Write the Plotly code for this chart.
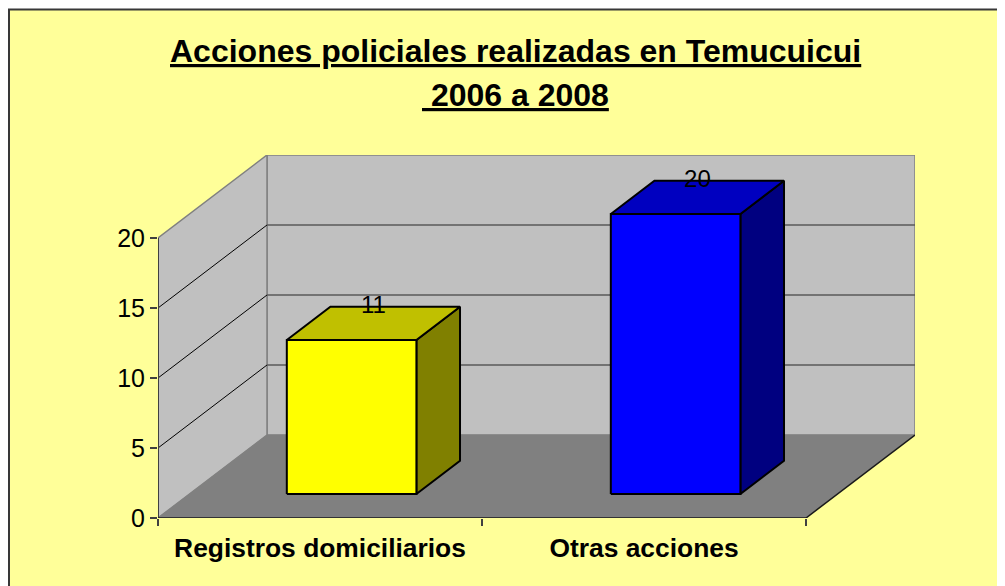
import plotly.graph_objects as go

# ---- data ----
categories = ["Registros domiciliarios", "Otras acciones"]
values = [11, 20]
front_colors = ["#FFFF00", "#0000FF"]
top_colors = ["#C0C000", "#0000C0"]
side_colors = ["#808000", "#000080"]
y_ticks = [0, 5, 10, 15, 20]
title_lines = ["Acciones policiales realizadas en Temucuicui", "\u00a02006 a 2008"]

# ---- layout geometry ----
W, H = 1005, 586
OFF = 8  # page body margin offset
ML, MR, MT, MB = 158 - OFF, 90 + OFF, 155 - OFF, 68 + OFF
N = len(categories)
VMAX = max(y_ticks)
DX = 109 / 324      # depth shift along category axis (per full depth)
DY = 83 / 14        # depth shift along value axis (per full depth)
BAR_HALF = 0.2
D0, D1 = 0.29, 0.69
FONT = "Arial, Liberation Sans, sans-serif"


def proj(u, d, v):
    return u + DX * d, v + DY * d


def poly(pts):
    xs, ys = [], []
    for p in pts + [pts[0]]:
        x, y = proj(*p)
        xs.append(x)
        ys.append(y)
    return xs, ys


def segs(pairs):
    xs, ys = [], []
    for a, b in pairs:
        for p in (a, b):
            x, y = proj(*p)
            xs.append(x)
            ys.append(y)
        xs.append(None)
        ys.append(None)
    return xs, ys


fig = go.Figure()


def add_poly(pts, fill, line_color, line_width):
    xs, ys = poly(pts)
    fig.add_trace(go.Scatter(
        x=xs, y=ys, mode="lines", fill="toself", fillcolor=fill,
        line=dict(color=line_color, width=line_width),
        hoverinfo="skip", showlegend=False))


def add_lines(pairs, color, width):
    xs, ys = segs(pairs)
    fig.add_trace(go.Scatter(
        x=xs, y=ys, mode="lines", line=dict(color=color, width=width),
        hoverinfo="skip", showlegend=False))


# walls and floor
add_poly([(0, 1, 0), (N, 1, 0), (N, 1, VMAX), (0, 1, VMAX)], "#C0C0C0", "#808080", 1.5)
add_poly([(0, 0, 0), (0, 1, 0), (0, 1, VMAX), (0, 0, VMAX)], "#C0C0C0", "#808080", 1.5)
add_poly([(0, 0, 0), (N, 0, 0), (N, 1, 0), (0, 1, 0)], "#808080", "#808080", 0.5)

# gridlines
inner = [v for v in y_ticks if 0 < v < VMAX]
add_lines([((0, 1, v), (N, 1, v)) for v in inner], "#5A5A5A", 1.5)
add_lines([((0, 0, v), (0, 1, v)) for v in inner], "#000000", 1)

# axis lines / floor edges
add_lines([((0, 0, 0), (0, 0, VMAX))], "#404040", 2)
add_lines([((0, 0, 0), (N, 0, 0)), ((N, 0, 0), (N, 1, 0))], "#1A1A1A", 1.5)

# bars
for i, v in enumerate(values):
    u0, u1 = i + 0.5 - BAR_HALF, i + 0.5 + BAR_HALF
    add_poly([(u1, D0, 0), (u1, D1, 0), (u1, D1, v), (u1, D0, v)], side_colors[i], "#000000", 2)
    add_poly([(u0, D0, v), (u1, D0, v), (u1, D1, v), (u0, D1, v)], top_colors[i], "#000000", 2)
    add_poly([(u0, D0, 0), (u1, D0, 0), (u1, D0, v), (u0, D0, v)], front_colors[i], "#000000", 2)

# data labels
lx = [proj(i + 0.5, (D0 + D1) / 2, v)[0] for i, v in enumerate(values)]
ly = [proj(i + 0.5, D1, v)[1] for i, v in enumerate(values)]
fig.add_trace(go.Scatter(
    x=lx, y=ly, mode="text", text=[str(v) for v in values],
    textposition="middle center", textfont=dict(family=FONT, size=24, color="#000000"),
    hoverinfo="skip", showlegend=False))

pw, ph = W - ML - MR, H - MT - MB


def px(x):
    # x given in target screen pixels
    return (x - OFF - ML) / pw


def py(y):
    return (H - MB - (y - OFF)) / ph


fig.add_shape(type="rect", xref="paper", yref="paper", layer="below",
              x0=px(9), y0=py(9.5), x1=px(1040), y1=py(640),
              fillcolor="#FFFF99", line=dict(color="#383838", width=2))

for txt, yc in zip(title_lines, [51, 95]):
    fig.add_annotation(xref="paper", yref="paper", x=px(515.5), y=py(yc),
                       xanchor="center", yanchor="middle", showarrow=False,
                       text="<b><u>" + txt + "</u></b>",
                       font=dict(family=FONT, size=32, color="#000000"))

fig.update_layout(
    width=W, height=H,
    margin=dict(l=ML, r=MR, t=MT, b=MB, pad=0),
    paper_bgcolor="#FFFFFF", plot_bgcolor="rgba(0,0,0,0)",
    showlegend=False,
    xaxis=dict(range=[0, N + DX], showgrid=False, zeroline=False, showline=False,
               tickmode="array", tickvals=[i + 0.5 for i in range(N)],
               ticktext=["<b>" + c + "</b>" for c in categories],
               ticks="outside", ticklen=6, tickcolor="rgba(0,0,0,0)",
               tickfont=dict(family=FONT, size=26.4, color="#000000"),
               minor=dict(tickmode="array", tickvals=list(range(N + 1)), ticks="outside",
                          ticklen=7, tickwidth=1.5, tickcolor="#404040"),
               fixedrange=True),
    yaxis=dict(range=[0, VMAX + DY], showgrid=False, zeroline=False, showline=False,
               tickmode="array", tickvals=y_ticks, ticks="outside", ticklen=7,
               tickwidth=1.5, tickcolor="#404040",
               tickfont=dict(family=FONT, size=25, color="#000000"),
               fixedrange=True),
)

fig.write_html("out.html")
